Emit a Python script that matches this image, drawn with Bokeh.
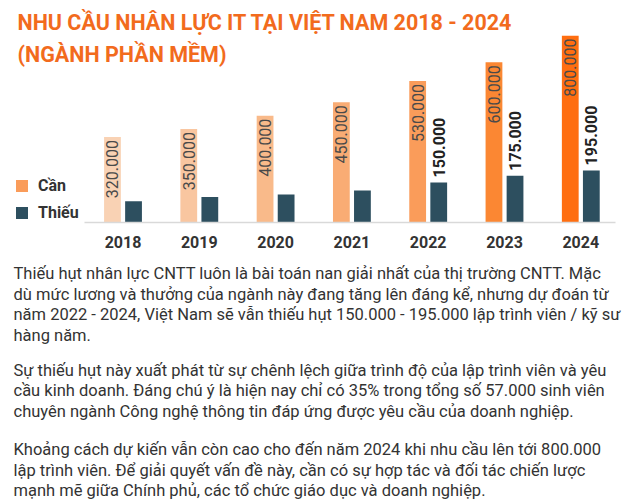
import math
from bokeh.plotting import figure
from bokeh.layouts import column
from bokeh.models import (ColumnDataSource, Range1d, Label, Legend, LegendItem,
                          FixedTicker, Title)
from bokeh.transform import dodge
from bokeh.core.properties import value
from bokeh.embed import file_html
from bokeh.resources import INLINE

# ---------------- data ----------------
years = [2018, 2019, 2020, 2021, 2022, 2023, 2024]
need = [320000, 350000, 400000, 450000, 530000, 600000, 800000]
shortage = [80000, 95000, 105000, 120000, 150000, 175000, 195000]
shortage_labelled = [False, False, False, False, True, True, True]
series_names = ["Cần", "Thiếu"]
need_colors = ["#F9D2B4", "#F9C6A0", "#F9BA8A", "#F9AC74",
               "#FA9C5A", "#FB8733", "#FF6E10"]
short_color = "#2D4F5F"
title_lines = ["NHU CẦU NHÂN LỰC IT TẠI VIỆT NAM 2018 - 2024",
               "(NGÀNH PHẦN MỀM)"]
paragraphs = [
    ["Thiếu hụt nhân lực CNTT luôn là bài toán nan giải nhất của thị trường CNTT. Mặc",
     "dù mức lương và thưởng của ngành này đang tăng lên đáng kể, nhưng dự đoán từ",
     "năm 2022 - 2024, Việt Nam sẽ vẫn thiếu hụt 150.000 - 195.000 lập trình viên / kỹ sư",
     "hàng năm."],
    ["Sự thiếu hụt này xuất phát từ sự chênh lệch giữa trình độ của lập trình viên và yêu",
     "cầu kinh doanh. Đáng chú ý là hiện nay chỉ có 35% trong tổng số 57.000 sinh viên",
     "chuyên ngành Công nghệ thông tin đáp ứng được yêu cầu của doanh nghiệp."],
    ["Khoảng cách dự kiến vẫn còn cao cho đến năm 2024 khi nhu cầu lên tới 800.000",
     "lập trình viên. Để giải quyết vấn đề này, cần có sự hợp tác và đối tác chiến lược",
     "mạnh mẽ giữa Chính phủ, các tổ chức giáo dục và doanh nghiệp."],
]

Y_MAX = 700000  # visible top of the value axis (the 2024 bar is cut, as in the source)


def fmt(v):
    return f"{v:,}".replace(",", ".")


FONT = value("Roboto")
W = 624
TOP_H = 35                                     # title band above the chart frame
CHART_H, TEXT_H = 258, 244                     # page rows 0-258, 258-502
PX_PER_YEAR = 76.3
FIRST_YEAR_X = 122.5                           # page x of the first category
TITLE_COLOR = "#F26B1D"

# ---------- chart (with the first title line in its top band) ----------
src = ColumnDataSource(dict(
    year=years, need=need, short=shortage, color=need_colors,
    need_label=[fmt(v) for v in need],
    need_label_y=[min(v, Y_MAX) for v in need],
))
short_src = ColumnDataSource(dict(
    year=[y for y, s in zip(years, shortage_labelled) if s],
    short=[v for v, s in zip(shortage, shortage_labelled) if s],
    label=[fmt(v) for v, s in zip(shortage, shortage_labelled) if s],
))

x_start = years[0] - FIRST_YEAR_X / PX_PER_YEAR
p = figure(width=W, height=CHART_H,
           x_range=Range1d(x_start, x_start + W / PX_PER_YEAR),
           y_range=Range1d(0, Y_MAX),
           output_backend="svg", toolbar_location=None, y_axis_location=None,
           min_border=0, min_border_bottom=36, min_border_top=TOP_H)
p.title = Title(text=title_lines[0], align="left", offset=17, standoff=1,
                text_font="Roboto", text_font_size="21.5px", text_font_style="bold",
                text_color=TITLE_COLOR)
p.extra_x_ranges = {"page": Range1d(0, W)}
p.extra_y_ranges = {"page": Range1d(222, TOP_H)}
p.grid.visible = False
p.outline_line_color = None

ax = p.xaxis[0]
ax.ticker = FixedTicker(ticks=years)
ax.bounds = (years[0] - 0.5, years[-1] + 0.45)
ax.major_tick_line_color = None
ax.minor_tick_line_color = None
ax.axis_line_color = "#D9D9D9"
ax.axis_line_width = 1.5
ax.major_label_text_font = "Roboto"
ax.major_label_text_font_size = "16px"
ax.major_label_text_font_style = "bold"
ax.major_label_text_color = "#333333"
ax.major_label_standoff = 7

DODGE = 0.138
BW = 0.22
r_need = p.vbar(x=dodge("year", -DODGE), top="need", width=BW,
                source=src, fill_color="color", line_color=None)
r_short = p.vbar(x=dodge("year", DODGE), top="short", width=BW,
                 source=src, fill_color=short_color, line_color=None)

p.text(x=dodge("year", -DODGE), y="need_label_y", text="need_label",
       source=src, angle=math.pi / 2, text_align="right", text_baseline="middle",
       y_offset=3, text_font=FONT, text_font_size="16px", text_color="#4A4A4A")
p.text(x=dodge("year", DODGE), y="short", text="label",
       source=short_src, angle=math.pi / 2, text_align="left", text_baseline="middle",
       y_offset=-5, text_font=FONT, text_font_size="16px", text_font_style="bold",
       text_color="#222222")

legend = Legend(items=[LegendItem(label=series_names[0], renderers=[r_need], index=4),
                       LegendItem(label=series_names[1], renderers=[r_short], index=0)],
                location=(14, 0), glyph_width=15, glyph_height=15, label_height=20,
                label_standoff=9, spacing=7, padding=0, margin=0,
                border_line_color=None, background_fill_alpha=0,
                label_text_font="Roboto", label_text_font_size="16px",
                label_text_font_style="bold", label_text_color="#333333")
p.add_layout(legend)

p.add_layout(Label(x=17, y=53.5, x_range_name="page", y_range_name="page",
                   text=title_lines[1], text_font="Roboto", text_font_size="21.5px",
                   text_font_style="bold", text_color=TITLE_COLOR,
                   text_baseline="alphabetic"))

# ---------- paragraphs ----------
pp = figure(width=W, height=TEXT_H, x_range=Range1d(0, W),
            y_range=Range1d(258 + TEXT_H, 258), output_backend="svg",
            toolbar_location=None, x_axis_location=None, y_axis_location=None,
            min_border=0)
pp.grid.visible = False
pp.outline_line_color = None
first_baselines = [273, 369.5, 449]
STEP = 20.5
for para, b0 in zip(paragraphs, first_baselines):
    for i, line in enumerate(para):
        pp.add_layout(Label(x=13, y=b0 + i * STEP, text=line, text_font="Roboto",
                            text_font_size="16.5px", text_color="#333333",
                            text_baseline="alphabetic"))

layout = column(p, pp, spacing=0)
open("out.html", "w").write(file_html(layout, INLINE))
